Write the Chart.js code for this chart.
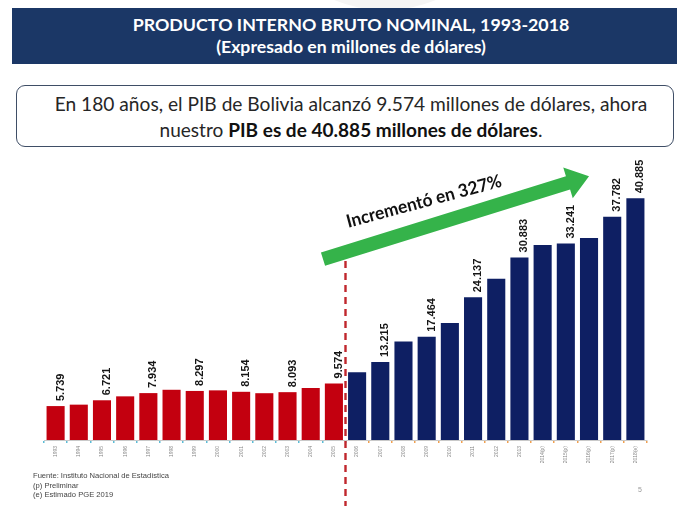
<!DOCTYPE html>
<html>
<head>
<meta charset="utf-8">
<script src="https://cdn.jsdelivr.net/npm/chart.js@4.4.1/dist/chart.umd.min.js"></script>
<style>
  html, body { margin:0; padding:0; background:#fff; }
  #page { position:relative; width:677px; height:509px; overflow:hidden; background:#fff; font-family: Lato, "Open Sans", sans-serif; }
  #band { position:absolute; left:12px; top:8px; width:665px; height:56px; background:#1b3766; }
  .line { position:absolute; white-space:nowrap; line-height:1; }
  #t1, #t2 { color:#fff; font-weight:700; }
  #box { position:absolute; left:16px; top:85px; width:658px; height:62px; border:1.5px solid #3f4e66; border-radius:9px; box-sizing:border-box; }
  #b1, #b2 { color:#262626; }
  #b2 b { color:#111; }
  #notes { position:absolute; left:33px; top:471px; font-family:"Liberation Sans", Arial, sans-serif; font-size:7.6px; color:#444; line-height:9.6px; }
  #pnum { position:absolute; left:638px; top:486px; font-family:"Liberation Sans", Arial, sans-serif; font-size:7px; color:#999; }
  canvas { position:absolute; left:0; top:0; }
  .deco { position:absolute; border-radius:50%; background:#f5f5f5; }
</style>
</head>
<body>
<div id="page">
  <div class="deco" style="left:250px; top:-260px; width:270px; height:270px;"></div>
  <div id="band"></div>
  <div class="line" id="t1" data-w="437" data-cx="351" data-cy="25">PRODUCTO INTERNO BRUTO NOMINAL, 1993-2018</div>
  <div class="line" id="t2" data-w="270" data-cx="351" data-cy="47">(Expresado en millones de dólares)</div>
  <div id="box"></div>
  <div class="line" id="b1" data-w="593" data-cx="351" data-cy="104">En 180 años, el PIB de Bolivia alcanzó 9.574 millones de dólares, ahora</div>
  <div class="line" id="b2" data-w="383" data-cx="351" data-cy="130">nuestro <b>PIB es de 40.885 millones de dólares</b>.</div>
  <canvas id="c" width="677" height="509"></canvas>
  <div id="notes">Fuente: Instituto Nacional de Estadística<br>(p) Preliminar<br>(e) Estimado PGE 2019</div>
  <div id="pnum">5</div>
</div>
<script>
// ---- data ----
const years = ["1993","1994","1995","1996","1997","1998","1999","2000","2001","2002","2003","2004","2005",
               "2006","2007","2008","2009","2010","2011","2012","2013","2014(p)","2015(p)","2016(p)","2017(p)","2018(e)"];
const gdp = [5739, 5981, 6721, 7385, 7934, 8497, 8297, 8398, 8154, 7917, 8093, 8784, 9574,
             11452, 13215, 16674, 17464, 19786, 24137, 27282, 30883, 32996, 33241, 34189, 37782, 40885];
const labeledYears = ["1993","1995","1997","1999","2001","2003","2005","2007","2009","2011","2013","2015(p)","2017(p)","2018(e)"];
const splitIndex = 13; // first year of the second period (2006)
const arrowTail = [11.53, 30600];
const arrowHead = [23.0, 44600];
const arrowText = "Incrementó en 327%";
const arrowTextPos = [15.95, 39400];

const RED = '#c3000f', NAVY = '#0e1f63', GREEN = '#35b34a';

// ---- fit header text lines ----
document.querySelectorAll('.line').forEach(el => {
  const target = +el.dataset.w;
  el.style.fontSize = '100px';
  const w100 = el.getBoundingClientRect().width;
  const fs = 100 * target / w100;
  el.style.fontSize = fs + 'px';
  const r = el.getBoundingClientRect();
  el.style.left = (+el.dataset.cx - r.width / 2) + 'px';
  el.style.top = (+el.dataset.cy - r.height / 2) + 'px';
});

const fmt = v => v.toLocaleString('de-DE');

const overlay = {
  id: 'overlay',
  afterDatasetsDraw(chart) {
    const {ctx, scales:{x, y}} = chart;
    const meta = chart.getDatasetMeta(0);
    // value labels
    ctx.save();
    ctx.fillStyle = '#151515';
    ctx.font = 'bold 11px "Liberation Sans", Arial, sans-serif';
    ctx.textAlign = 'left';
    ctx.textBaseline = 'middle';
    years.forEach((yr, i) => {
      if (!labeledYears.includes(yr)) return;
      const el = meta.data[i];
      ctx.save();
      ctx.translate(el.x + 5, el.y - 5);
      ctx.rotate(-Math.PI / 2);
      ctx.fillText(fmt(gdp[i]), 0, 0);
      ctx.restore();
    });
    ctx.restore();

    // dashed divider
    const xd = (x.getPixelForValue(splitIndex - 1) + x.getPixelForValue(splitIndex)) / 2;
    ctx.save();
    ctx.strokeStyle = '#c0272d';
    ctx.lineWidth = 2.4;
    ctx.setLineDash([7, 5]);
    ctx.beginPath();
    ctx.moveTo(xd, y.getPixelForValue(arrowTail[1]) + 2);
    ctx.lineTo(xd, 506);
    ctx.stroke();
    ctx.restore();

    // arrow
    const x0 = x.getPixelForValue(arrowTail[0]), y0 = y.getPixelForValue(arrowTail[1]);
    const x1 = x.getPixelForValue(arrowHead[0]), y1 = y.getPixelForValue(arrowHead[1]);
    const ang = Math.atan2(y1 - y0, x1 - x0);
    const len = Math.hypot(x1 - x0, y1 - y0);
    const sw = 7, hw = 16, hl = 22;
    ctx.save();
    ctx.translate(x0, y0);
    ctx.rotate(ang);
    ctx.fillStyle = GREEN;
    ctx.beginPath();
    ctx.moveTo(0, -sw);
    ctx.lineTo(len - hl, -sw);
    ctx.lineTo(len - hl, -hw);
    ctx.lineTo(len, 0);
    ctx.lineTo(len - hl, hw);
    ctx.lineTo(len - hl, sw);
    ctx.lineTo(0, sw);
    ctx.closePath();
    ctx.fill();
    ctx.restore();

    // arrow text
    ctx.save();
    ctx.translate(x.getPixelForValue(arrowTextPos[0]), y.getPixelForValue(arrowTextPos[1]));
    ctx.rotate(-15 * Math.PI / 180);
    ctx.font = 'bold 18px Lato, "Open Sans", sans-serif';
    const tw = ctx.measureText(arrowText).width;
    ctx.scale(160 / tw, 1);
    ctx.fillStyle = '#111';
    ctx.textAlign = 'center';
    ctx.textBaseline = 'alphabetic';
    ctx.fillText(arrowText, 0, 0);
    ctx.restore();
  }
};

new Chart(document.getElementById('c'), {
  type: 'bar',
  data: {
    labels: years,
    datasets: [{
      data: gdp,
      backgroundColor: ctx => ctx.dataIndex < splitIndex ? RED : NAVY,
      barPercentage: 0.78,
      categoryPercentage: 1.0,
      borderWidth: 0
    }]
  },
  options: {
    responsive: false,
    animation: false,
    devicePixelRatio: 1,
    layout: { padding: { left: 44, right: 30, top: 174, bottom: 0 } },
    plugins: { legend: { display: false }, tooltip: { enabled: false }, title: { display: false } },
    scales: {
      x: {
        offset: true,
        afterFit: axis => { axis.height = 69; },
        border: { display: true, color: '#c9c9c9', width: 1 },
        grid: {
          display: true, drawOnChartArea: false, drawTicks: true, tickLength: 3, lineWidth: 1.5,
          color: c => (c.index <= splitIndex ? '#5bbcd6' : '#f0a050')
        },
        ticks: {
          autoSkip: false, minRotation: 90, maxRotation: 90, padding: 3,
          font: { size: 5, family: '"Liberation Sans", Arial, sans-serif' }, color: '#888'
        }
      },
      y: { display: false, min: 0, max: 45000 }
    }
  },
  plugins: [overlay]
});
</script>
</body>
</html>
